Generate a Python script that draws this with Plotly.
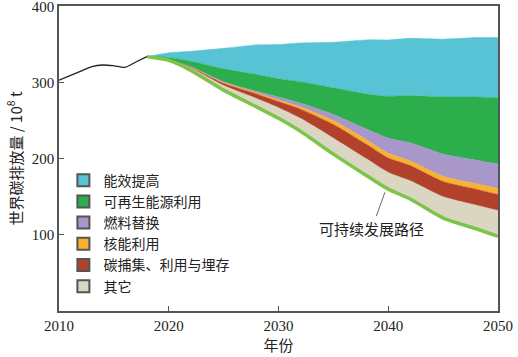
import plotly.graph_objects as go

# ---- data ----
hist_years = [2010, 2011, 2012, 2013, 2014, 2015, 2016, 2017, 2018]
hist_emis = [303, 309, 315, 321, 323, 322, 320, 327, 334]

proj_years = [2018, 2020, 2022, 2025, 2028, 2030, 2032, 2035, 2038, 2040, 2042, 2045, 2048, 2050]
sustainable = [334, 329, 316, 290, 268, 253, 236, 206, 178, 160, 147, 122, 108, 98]
other = [0, 1, 3, 6, 11, 14, 17, 21, 22, 22, 24, 28, 31, 34]
ccus = [0, 0, 1, 3, 6, 8, 12, 18, 19, 19, 20, 20, 21, 21]
nuclear = [0, 0, 0.5, 1, 1.5, 2, 3, 5, 6, 6, 6, 7, 7, 8]
fuel_switch = [0, 0, 0.5, 1, 2, 4, 5, 8, 14, 20, 24, 29, 31, 32]
renewables = [0, 3, 7, 17, 22, 24, 28, 35, 46, 55, 62, 75, 83, 87]
efficiency = [0, 6, 13, 27, 39, 45, 51, 60, 71, 74, 75, 76, 78, 79]

legend_names = ["能效提高", "可再生能源利用", "燃料替换", "核能利用", "碳捕集、利用与埋存", "其它"]
x_ticks = [2010, 2020, 2030, 2040, 2050]
y_ticks = [100, 200, 300, 400]

# ---- styles ----
colors = {
    "能效提高": "#57c3d5",
    "可再生能源利用": "#2bae4b",
    "燃料替换": "#a897c8",
    "核能利用": "#f8b22f",
    "碳捕集、利用与埋存": "#b2412b",
    "其它": "#dbd6c1",
}
path_color = "#7dc44b"
cjk = "Noto Sans CJK SC"
serif = "Liberation Serif"

fig = go.Figure()

# invisible base (sustainable path) for stacking
fig.add_trace(go.Scatter(x=proj_years, y=sustainable, stackgroup="s", mode="lines",
                         line=dict(width=0, color="rgba(0,0,0,0)"),
                         fillcolor="rgba(0,0,0,0)", showlegend=False, hoverinfo="skip"))

stack = [("其它", other), ("碳捕集、利用与埋存", ccus), ("核能利用", nuclear),
         ("燃料替换", fuel_switch), ("可再生能源利用", renewables), ("能效提高", efficiency)]
for name, vals in stack:
    fig.add_trace(go.Scatter(x=proj_years, y=vals, stackgroup="s", mode="lines",
                             line=dict(width=0.5, color=colors[name], shape="spline", smoothing=0.6),
                             fillcolor=colors[name], showlegend=False, name=name))

# sustainable path line
fig.add_trace(go.Scatter(x=proj_years, y=sustainable, mode="lines",
                         line=dict(width=3.5, color=path_color, shape="spline", smoothing=0.6),
                         showlegend=False, hoverinfo="skip"))

# historical line
fig.add_trace(go.Scatter(x=hist_years, y=hist_emis, mode="lines",
                         line=dict(width=1.3, color="#222222", shape="spline", smoothing=0.8),
                         showlegend=False))

# legend swatches
for name in legend_names:
    fig.add_trace(go.Scatter(x=[None], y=[None], mode="markers", name=name,
                             marker=dict(symbol="square", size=13, color=colors[name],
                                         line=dict(color="#555555", width=1.5))))

fig.add_annotation(x=2039.7, y=156, text="可持续发展路径", showarrow=True,
                   arrowhead=0, arrowwidth=0.8, arrowcolor="#444444",
                   ax=-13, ay=36, font=dict(family=cjk, size=15, color="#222222"))

fig.update_layout(
    width=518, height=357,
    margin=dict(l=59, r=20, t=6, b=46),
    paper_bgcolor="white", plot_bgcolor="white",
    legend=dict(x=0.01, y=0.48, xanchor="left", yanchor="top", traceorder="normal",
                font=dict(family=cjk, size=14, color="#222222"),
                bgcolor="rgba(0,0,0,0)", itemsizing="constant", tracegroupgap=0),
    xaxis=dict(range=[2010, 2050], tickvals=x_ticks, ticks="inside", ticklen=5,
               tickcolor="#555555", showline=True, linecolor="#555555", linewidth=1.5,
               mirror=True, showgrid=False, zeroline=False, ticklabeloverflow="allow",
               automargin=False,
               tickfont=dict(family=serif, size=15, color="#222222"),
               title=dict(text="年份", font=dict(family=cjk, size=15, color="#222222"), standoff=4)),
    yaxis=dict(range=[0, 400.5], tickvals=y_ticks, ticks="inside", ticklen=5,
               tickcolor="#555555", showline=True, linecolor="#555555", linewidth=1.5,
               mirror=True, showgrid=False, zeroline=False, ticklabeloverflow="allow",
               automargin=False,
               tickfont=dict(family=serif, size=15, color="#222222"),
               title=dict(text="世界碳排放量 / 10<sup>8</sup> t",
                          font=dict(family=cjk, size=15, color="#222222"), standoff=6)),
)

fig.write_html("out.html", config={"displayModeBar": False},
               post_script="document.body.style.margin='0px';")
